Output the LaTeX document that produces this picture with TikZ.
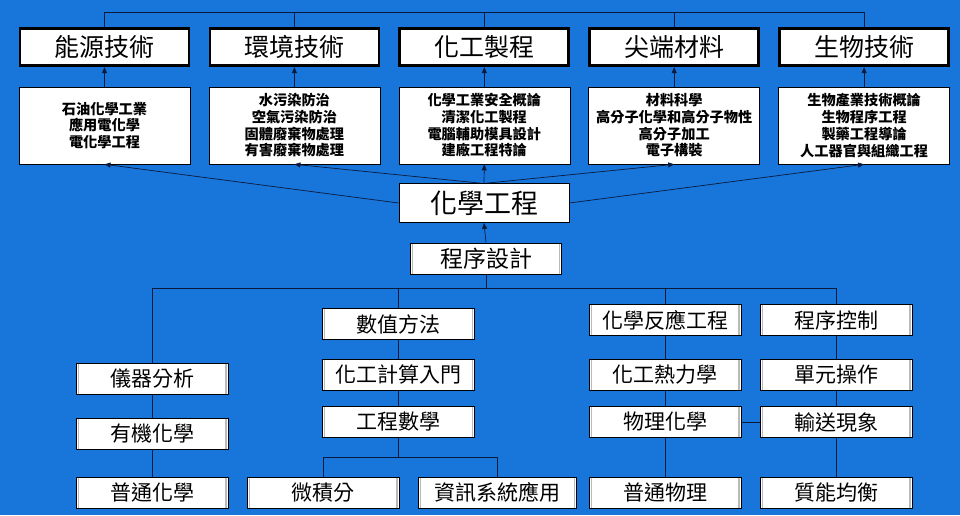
\documentclass[tikz,border=0pt]{standalone}
\usepackage{fontspec}
\setmainfont{Noto Sans CJK TC}
\usetikzlibrary{arrows.meta}
\definecolor{slideblue}{RGB}{24,117,218}
\definecolor{linkcol}{RGB}{10,26,60}
\tikzset{
  titlebox/.style={draw=black, line width=2.8pt, fill=white, inner sep=0,
    minimum width=169pt, minimum height=37.5pt, font=\fontsize{25}{28}\selectfont},
  listbox/.style={draw=black, line width=0.6pt, fill=white, inner sep=0, align=center,
    minimum width=171pt, minimum height=77pt, font=\bfseries\fontsize{14.2}{16.7}\selectfont},
  coursebox/.style={draw=black, line width=0.8pt, fill=white, inner sep=0,
    minimum width=152pt, minimum height=31pt, font=\fontsize{21}{24}\selectfont,
    path picture={
      \draw[gray!55, line width=1.4pt]
        ([xshift=2.2pt]path picture bounding box.south west) -- ([xshift=2.2pt]path picture bounding box.north west)
        ([xshift=-2.2pt]path picture bounding box.south east) -- ([xshift=-2.2pt]path picture bounding box.north east);
    }},
  link/.style={draw=linkcol, line width=0.7pt},
  arr/.style={link, -{Triangle[length=6pt,width=5pt]}},
}
\begin{document}
\begin{tikzpicture}[x=1pt,y=-1pt]
  \fill[slideblue] (0,0) rectangle (960,515);
  \useasboundingbox (0,0) rectangle (960,515);

  \foreach \name/\txt [count=\i from 0] in {energy/能源技術, env/環境技術, proc/化工製程, mat/尖端材料, bio/生物技術}
    \node[titlebox] (t\name) at (104.5+189.9*\i,47) {\txt};
  \foreach \name/\txt [count=\i from 0] in {
      energy/{石油化學工業\\應用電化學\\電化學工程},
      env/{水污染防治\\空氣污染防治\\固體廢棄物處理\\有害廢棄物處理},
      proc/{化學工業安全概論\\清潔化工製程\\電腦輔助模具設計\\建廠工程特論},
      mat/{材料科學\\高分子化學和高分子物性\\高分子加工\\電子構裝},
      bio/{生物產業技術概論\\生物程序工程\\製藥工程導論\\人工器官與組織工程}}
    \node[listbox] (l\name) at (104.5+189.9*\i,125.5) {\txt};

  \coordinate (busTop) at (0,12);
  \draw[link] (tenergy.north) -- (tenergy.north |- busTop) -- (tbio.north |- busTop) -- (tbio.north);
  \foreach \name in {env,proc,mat}
    \draw[link] (t\name.north) -- (t\name.north |- busTop);
  \foreach \name in {energy,env,proc,mat,bio}
    \draw[arr] (l\name.north) -- (t\name.south);

  \node[draw=black, line width=0.8pt, fill=white, inner sep=0, minimum width=170pt, minimum height=39pt,
    font=\fontsize{27}{30}\selectfont] (chem) at (484,203) {化學工程};
  \node[coursebox, minimum width=151pt, font=\fontsize{23}{26}\selectfont] (design) at (486,258.5) {程序設計};
  \draw[arr] (chem.west) -- (lenergy.south);
  \draw[arr] ([xshift=-4pt]chem.north) -- (lenv.south);
  \draw[arr] (chem.north) -- (lproc.south);
  \draw[arr] ([xshift=3pt]chem.north) -- (lmat.south);
  \draw[arr] (chem.east) -- (lbio.south);
  \draw[arr] (design.north) -- (chem.south);

  % first-year to fourth-year courses
  \node[coursebox] (anal) at (152,378.5) {儀器分析};
  \node[coursebox] (org) at (152,433.5) {有機化學};
  \node[coursebox] (genchem) at (152,492.5) {普通化學};
  \node[coursebox] (numer) at (398.5,324) {數值方法};
  \node[coursebox] (cecalc) at (398.5,375) {化工計算入門};
  \node[coursebox] (engmath) at (398.5,422) {工程數學};
  \node[coursebox] (calc) at (323,492.5) {微積分};
  \node[coursebox, minimum width=158pt] (info) at (497.5,492.5) {資訊系統應用};
  \node[coursebox] (react) at (665,320) {化學反應工程};
  \node[coursebox] (thermo) at (665,374.5) {化工熱力學};
  \node[coursebox] (pchem) at (665,422) {物理化學};
  \node[coursebox] (phys) at (665,492.5) {普通物理};
  \node[coursebox] (ctrl) at (836,320) {程序控制};
  \node[coursebox] (unitop) at (836,374.5) {單元操作};
  \node[coursebox] (trans) at (836,422) {輸送現象};
  \node[coursebox] (mass) at (836,492.5) {質能均衡};

  \coordinate (busMid) at (0,288);
  \coordinate (fork) at (398.5,457);
  \draw[link] (design.south) -- (design.south |- busMid);
  \draw[link] (anal.north) |- (ctrl.north |- busMid) -- (ctrl.north);
  \draw[link] (numer.north) -- (numer.north |- busMid);
  \draw[link] (react.north) -- (react.north |- busMid);
  \draw[link] (anal) -- (org) -- (genchem);
  \draw[link] (numer) -- (cecalc) -- (engmath) -- (fork);
  \draw[link] (calc.north) |- (fork) -| (info.north);
  \draw[link] (react) -- (thermo) -- (pchem) -- (phys);
  \draw[link] (ctrl) -- (unitop) -- (trans) -- (mass);
  \draw[link] (pchem) -- (trans);
\end{tikzpicture}
\end{document}
